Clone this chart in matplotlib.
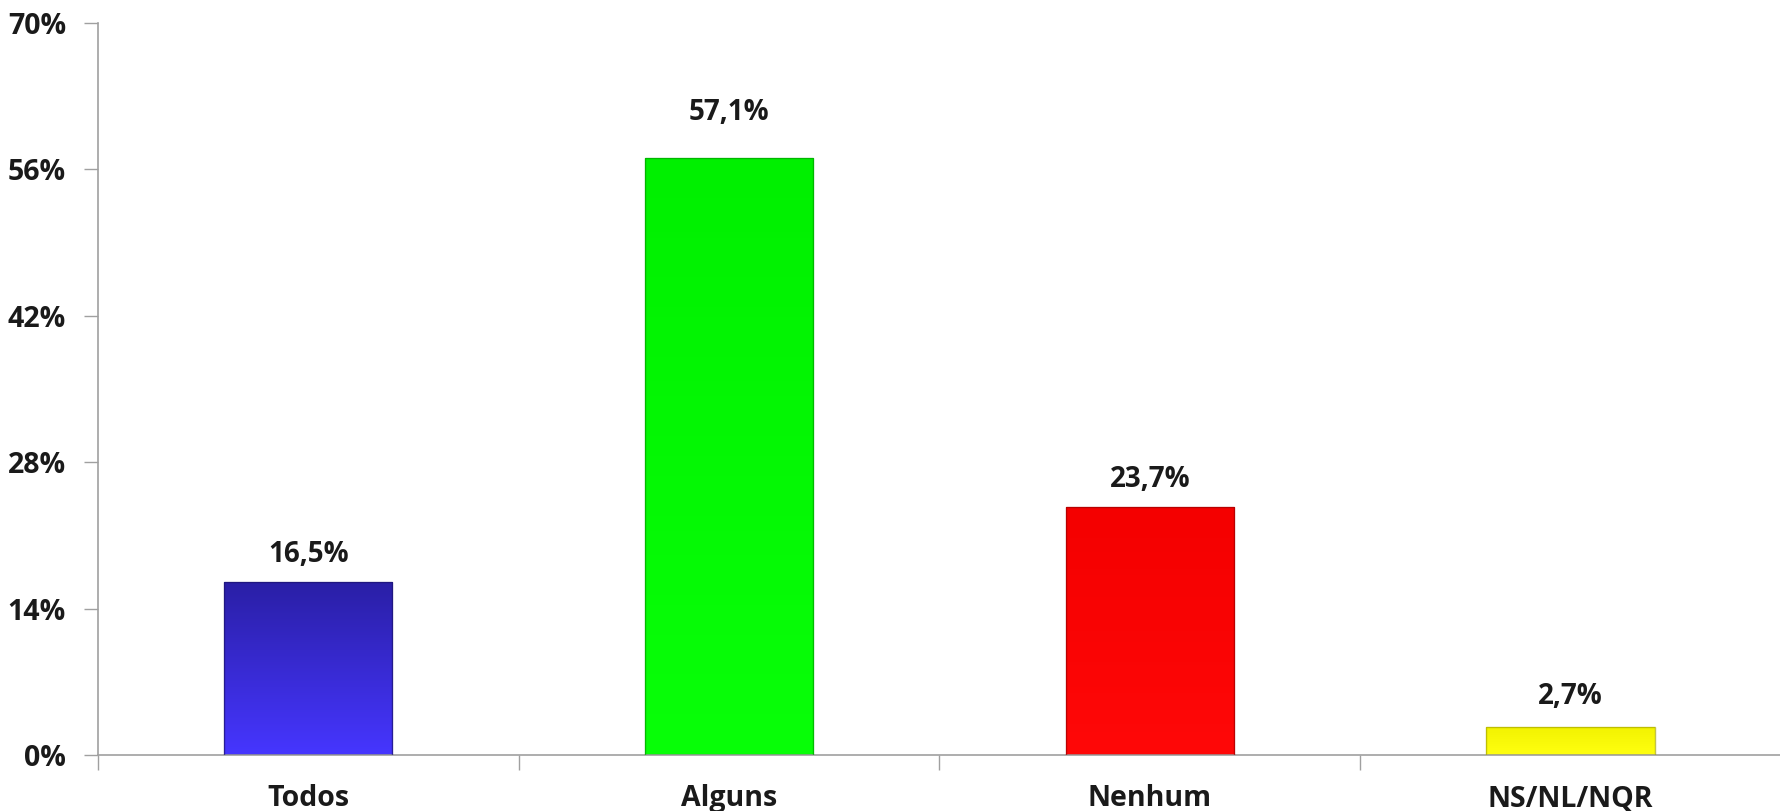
import matplotlib
matplotlib.use("Agg")
import matplotlib.pyplot as plt
import numpy as np
from matplotlib.colors import LinearSegmentedColormap

categories = ["Todos", "Alguns", "Nenhum", "NS/NL/NQR"]
values = [16.5, 57.1, 23.7, 2.7]
labels = ["16,5%", "57,1%", "23,7%", "2,7%"]
yticks = [0, 14, 28, 42, 56, 70]

colors_top = ["#2a1fa6", "#00f000", "#f40000", "#f2f200"]
colors_bot = ["#4636ff", "#08ff08", "#ff0808", "#ffff10"]
edge_colors = ["#1c1470", "#00a000", "#a00000", "#a8a800"]
label_offsets = [1.3, 3.0, 1.3, 1.5]

plt.rcParams['font.family'] = ['Open Sans', 'DejaVu Sans']

fig = plt.figure(figsize=(17.81, 8.11), dpi=100)
ax = fig.add_axes([0.055, 0.069, 0.945, 0.9026])

x = np.arange(len(categories))
width = 0.40
bars = ax.bar(x, values, width=width, color=colors_bot, edgecolor='none',
              linewidth=0, zorder=2)

# gradient fill for each bar (dark at top, lighter at bottom)
for b, ct, cb in zip(bars, colors_top, colors_bot):
    cmap = LinearSegmentedColormap.from_list("g", [ct, cb])
    x0, y0 = b.get_x(), b.get_y()
    w, h = b.get_width(), b.get_height()
    grad = np.linspace(0, 1, 256).reshape(-1, 1)
    im = ax.imshow(grad, cmap=cmap, aspect='auto', extent=[x0, x0 + w, y0, y0 + h],
                   origin='upper', zorder=2.5)
    im.set_clip_path(b)

# bevel-like outline on top of gradient
ax.bar(x, values, width=width, fill=False, edgecolor=edge_colors, linewidth=1.0,
       alpha=0.7, zorder=2.8)

for xi, v, lab, off in zip(x, values, labels, label_offsets):
    ax.text(xi, v + off, lab, ha='center', va='bottom', fontsize=20,
            fontweight='bold', color='#1a1a1a', zorder=3)

ax.set_xlim(-0.5, len(categories) - 0.5)
ax.set_ylim(0, 70)
ax.set_yticks(yticks)
ax.set_yticklabels([f"{t}%" for t in yticks])

ax.set_xticks(np.arange(-0.5, len(categories), 1.0))
ax.set_xticklabels([])
ax.set_xticks(x, minor=True)
ax.set_xticklabels(categories, minor=True)
ax.tick_params(axis='x', which='major', length=11, width=1, color='#a0a0a0', direction='out')
ax.tick_params(axis='x', which='minor', length=0, pad=21, labelsize=20.5)
ax.tick_params(axis='y', length=10, width=1, color='#a0a0a0', pad=13, labelsize=20.5)
for lab in ax.get_xticklabels(minor=True) + ax.get_yticklabels():
    lab.set_fontweight('bold')
    lab.set_color('#1a1a1a')

for s in ['top', 'right']:
    ax.spines[s].set_visible(False)
for s in ['left', 'bottom']:
    ax.spines[s].set_color('#a0a0a0')
    ax.spines[s].set_linewidth(1.2)
ax.set_xlim(-0.5, len(categories) - 0.5)
ax.set_ylim(0, 70)

fig.savefig("out.png", dpi=100)
